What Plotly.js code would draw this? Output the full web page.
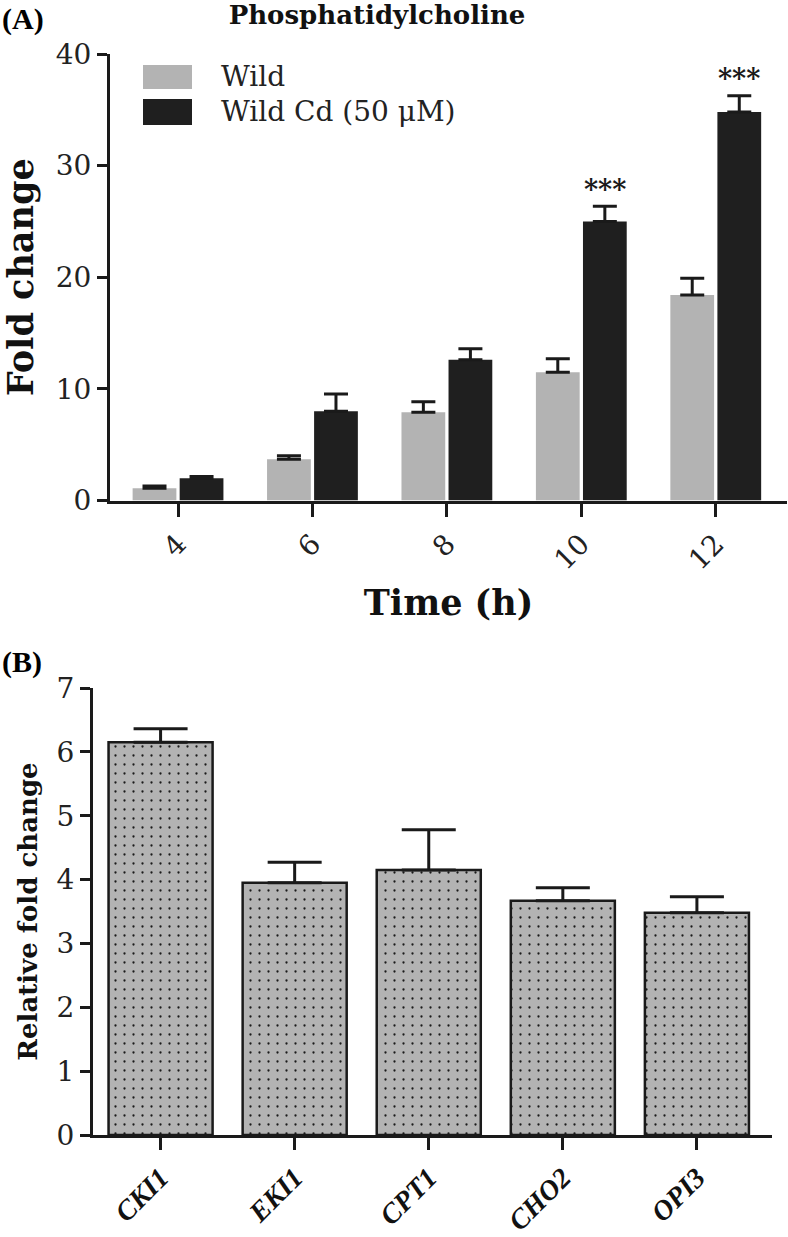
<!DOCTYPE html>
<html><head><meta charset="utf-8">
<script src="https://cdn.plot.ly/plotly-3.0.1.min.js"></script>
<style>html,body{margin:0;padding:0;background:#fff}</style>
</head><body><div id="chart" style="width:788px;height:1237px"></div>
<script>
// Panel A data
const timeLabels = ['4', '6', '8', '10', '12'];
const wildValues = [1.1, 3.7, 7.9, 11.5, 18.4];
const wildErrors = [0.2, 0.3, 0.95, 1.2, 1.5];
const cdValues = [2.0, 8.0, 12.6, 25.0, 34.8];
const cdErrors = [0.15, 1.55, 1.0, 1.35, 1.45];
const cdSignificance = ['', '', '', '***', '***'];
const seriesNames = ['Wild', 'Wild Cd (50 μM)'];
// Panel B data
const geneLabels = ['CKI1', 'EKI1', 'CPT1', 'CHO2', 'OPI3'];
const geneValues = [6.15, 3.95, 4.15, 3.67, 3.48];
const geneErrors = [0.21, 0.32, 0.63, 0.2, 0.25];

const W = 788, H = 1237;
const ink = '#1a1a1a';
const grey = '#b3b3b3';
const serif = 'DejaVu Serif';
const zeros = n => new Array(n).fill(0);
const px = v => v / W;
const py = v => 1 - v / H;

function errBar(arr, capW) {
  return {type: 'data', array: arr, arrayminus: zeros(arr.length), symmetric: false,
          visible: true, color: ink, thickness: 3, width: capW};
}

const traces = [
  {type: 'bar', name: seriesNames[0], x: timeLabels, y: wildValues, xaxis: 'x', yaxis: 'y',
   marker: {color: grey, line: {width: 0}}, error_y: errBar(wildErrors, 12), showlegend: false},
  {type: 'bar', name: seriesNames[1], x: timeLabels, y: cdValues, xaxis: 'x', yaxis: 'y',
   marker: {color: '#1f1f1f', line: {width: 0}}, error_y: errBar(cdErrors, 12), showlegend: false},
  {type: 'bar', name: 'Relative fold change', x: geneLabels, y: geneValues, xaxis: 'x2', yaxis: 'y2',
   width: 0.776,
   marker: {color: grey, line: {color: ink, width: 2.5},
            pattern: {shape: '.', fgcolor: ink, bgcolor: grey, size: 9, solidity: 0.05, fillmode: 'replace'}},
   error_y: errBar(geneErrors, 27), showlegend: false}
];

const axisCommon = {showline: true, linewidth: 3, linecolor: ink, ticks: 'outside', tickwidth: 3,
  tickcolor: ink, showgrid: false, zeroline: false, automargin: false, fixedrange: true};

const annotations = [
  {text: '(A)', xref: 'paper', yref: 'paper', x: 0, y: 1, xanchor: 'left', yanchor: 'top', showarrow: false,
   font: {family: 'Liberation Serif', size: 30, weight: 'bold', color: '#000'}},
  {text: '(B)', xref: 'paper', yref: 'paper', x: 0, y: py(643), xanchor: 'left', yanchor: 'top', showarrow: false,
   font: {family: 'Liberation Serif', size: 30, weight: 'bold', color: '#000'}},
  {text: seriesNames[0], xref: 'paper', yref: 'paper', x: px(219), y: py(77), xanchor: 'left', yanchor: 'middle',
   showarrow: false, font: {family: serif, size: 28, color: '#222'}},
  {text: seriesNames[1], xref: 'paper', yref: 'paper', x: px(219), y: py(112), xanchor: 'left', yanchor: 'middle',
   showarrow: false, font: {family: serif, size: 28, color: '#222'}}
];
cdSignificance.forEach((s, i) => {
  if (!s) return;
  annotations.push({text: s, xref: 'x', yref: 'y', x: i, y: cdValues[i] + cdErrors[i],
    xshift: 23.5, yshift: 17, yanchor: 'middle', showarrow: false,
    font: {family: serif, size: 27, weight: 'bold', color: ink}});
});

const shapes = [
  {type: 'rect', xref: 'paper', yref: 'paper', x0: px(143), x1: px(192), y0: py(89), y1: py(65),
   fillcolor: grey, line: {width: 0}},
  {type: 'rect', xref: 'paper', yref: 'paper', x0: px(143), x1: px(192), y0: py(125), y1: py(99),
   fillcolor: '#1f1f1f', line: {width: 0}}
];

const layout = {
  width: W, height: H, margin: {l: 0, r: 0, t: 0, b: 0},
  paper_bgcolor: '#fff', plot_bgcolor: 'rgba(0,0,0,0)',
  barmode: 'group', bargap: 0.30, bargroupgap: 0.07,
  showlegend: false,
  title: {text: 'Phosphatidylcholine', x: px(377), xanchor: 'center', xref: 'paper',
          y: py(15), yanchor: 'middle', yref: 'paper',
          font: {family: serif, size: 26, weight: 'bold', color: '#111'}},
  xaxis: Object.assign({}, axisCommon, {domain: [px(110), px(787)], anchor: 'y', type: 'category',
    range: [-0.506, 4.53], ticklen: 13, tickangle: -45,
    tickfont: {family: serif, size: 28, color: '#222'},
    title: {text: 'Time (h)', font: {family: serif, size: 35, weight: 'bold', color: '#111'}, standoff: 16}}),
  yaxis: Object.assign({}, axisCommon, {domain: [py(500.5), py(54)], anchor: 'x', range: [0, 40],
    tick0: 0, dtick: 10, ticklen: 10,
    tickfont: {family: serif, size: 28, color: '#222'},
    title: {text: 'Fold change', font: {family: serif, size: 35, weight: 'bold', color: '#111'}, standoff: 12}}),
  xaxis2: Object.assign({}, axisCommon, {domain: [px(93), px(772)], anchor: 'y2', type: 'category',
    range: [-0.504, 4.56], ticklen: 12, tickangle: -45,
    tickfont: {family: 'Liberation Serif', size: 28, weight: 'bold', style: 'italic', color: '#111'}}),
  yaxis2: Object.assign({}, axisCommon, {domain: [py(1135), py(688)], anchor: 'x2', range: [0, 7],
    tick0: 0, dtick: 1, ticklen: 10,
    tickfont: {family: serif, size: 28, color: '#222'},
    title: {text: 'Relative fold change', font: {family: serif, size: 26, weight: 'bold', color: '#111'}, standoff: 12}}),
  annotations: annotations,
  shapes: shapes
};

Plotly.newPlot('chart', traces, layout, {staticPlot: true, displayModeBar: false});
</script>
</body></html>
